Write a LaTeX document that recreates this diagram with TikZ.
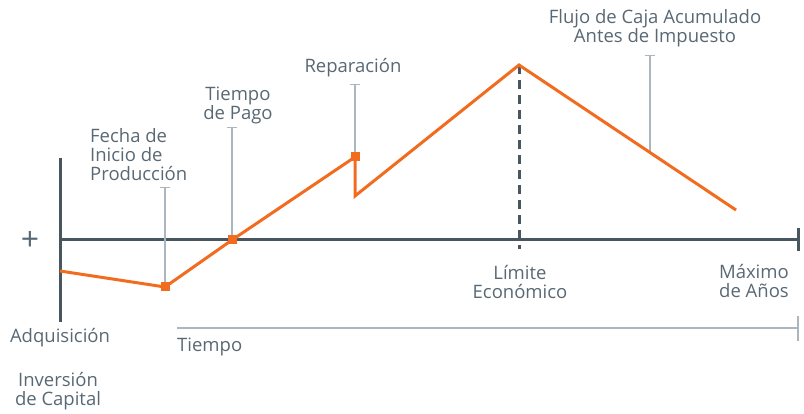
\documentclass[tikz,border=0pt]{standalone}
\usepackage{fontspec}
\setmainfont{Open Sans}
\usetikzlibrary{arrows.meta,calc}
\definecolor{axisc}{RGB}{72,86,96}
\definecolor{orangec}{RGB}{242,108,32}
\definecolor{leadc}{RGB}{172,182,190}
\definecolor{textc}{RGB}{88,104,116}
\begin{document}
\begin{tikzpicture}[x=1pt,y=-1pt,
 lbl/.style={text=textc,font=\fontsize{18.5}{19}\selectfont,inner sep=0pt,align=center},
 axisline/.style={draw=axisc,line width=3pt},
 cashline/.style={draw=orangec,line width=3pt,line join=miter},
 leader/.style={draw=leadc,line width=1.5pt,-{Bar[width=10pt,line width=1.5pt]}},
 endline/.style={draw=leadc,line width=1.5pt},
 marker/.style={rectangle,fill=orangec,minimum size=9pt,inner sep=0pt},
 dashline/.style={draw=axisc,line width=3pt,dash pattern=on 9pt off 6pt}]
\useasboundingbox (0,0) rectangle (804,414);
% axis coordinates
\coordinate (vtop) at (60,158);
\coordinate (vbot) at (60,322);
\coordinate (origin) at (60,240);
\coordinate (xend) at (798,240);
\coordinate (xendt) at (798,228);
\coordinate (xendb) at (798,251);
\coordinate (tstart) at (177,328);
\coordinate (tend) at (798,328);
\coordinate (tendt) at (798,316);
\coordinate (tendb) at (798,341);
% cash flow points
\coordinate (start) at (60,271);
\node[marker] (m1) at (165,287) {};
\node[marker] (m2) at (232,240) {};
\node[marker] (m3) at (355,157) {};
\coordinate (drop) at (355,196);
\coordinate (peak) at (519,65);
\coordinate (endp) at (736,210);
\coordinate (lf) at ($(peak)!0.604!(endp)$);
\coordinate (dashend) at (519,249);
% leader tops
\coordinate (t1) at (165,187);
\coordinate (t2) at (232,127);
\coordinate (t3) at (355,84);
\coordinate (t4) at (650,55);
% axes
\draw[axisline] (vtop) -- (vbot);
\draw[axisline] (origin) -- (xend);
\draw[axisline] (xendt) -- (xendb);
\draw[dashline] (peak) -- (dashend);
% time line
\draw[endline] (tstart) -- (tend);
\draw[endline] (tendt) -- (tendb);
% leaders
\draw[leader] (m1.center) -- (t1);
\draw[leader] (m2.center) -- (t2);
\draw[leader] (m3.center) -- (t3);
\draw[leader] (lf) -- (lf |- t4);
% cash flow line
\draw[cashline] (start) -- (m1.center) -- (m2.center) -- (m3.center) -- (drop) -- (peak) -- (endp);
\node[marker] at (m1) {};
\node[marker] at (m2) {};
\node[marker] at (m3) {};
% labels
\node[lbl,font=\fontsize{32}{32}\selectfont] (plus) at (30,241) {+};
\node[lbl,align=left,anchor=base west] (fecha) at (90,181) {Fecha de\\Inicio de\\Producción};
\node[lbl,anchor=base] (pago) at (238,120) {Tiempo\\de Pago};
\node[lbl,anchor=base] (repar) at (353,73) {Reparación};
\node[lbl,anchor=base] (flujo) at (655,43) {Flujo de Caja Acumulado\\Antes de Impuesto};
\node[lbl,anchor=base] (limite) at (520,299) {Límite\\Económico};
\node[lbl,align=right,anchor=base east] (maximo) at (789,298) {Máximo\\de Años};
\node[lbl,anchor=base] (adq) at (60,343) {Adquisición};
\node[lbl,align=left,anchor=base west] (tiempo) at (177,352) {Tiempo};
\node[lbl,anchor=base] (inv) at (58,405) {Inversión\\de Capital};
\end{tikzpicture}
\end{document}
